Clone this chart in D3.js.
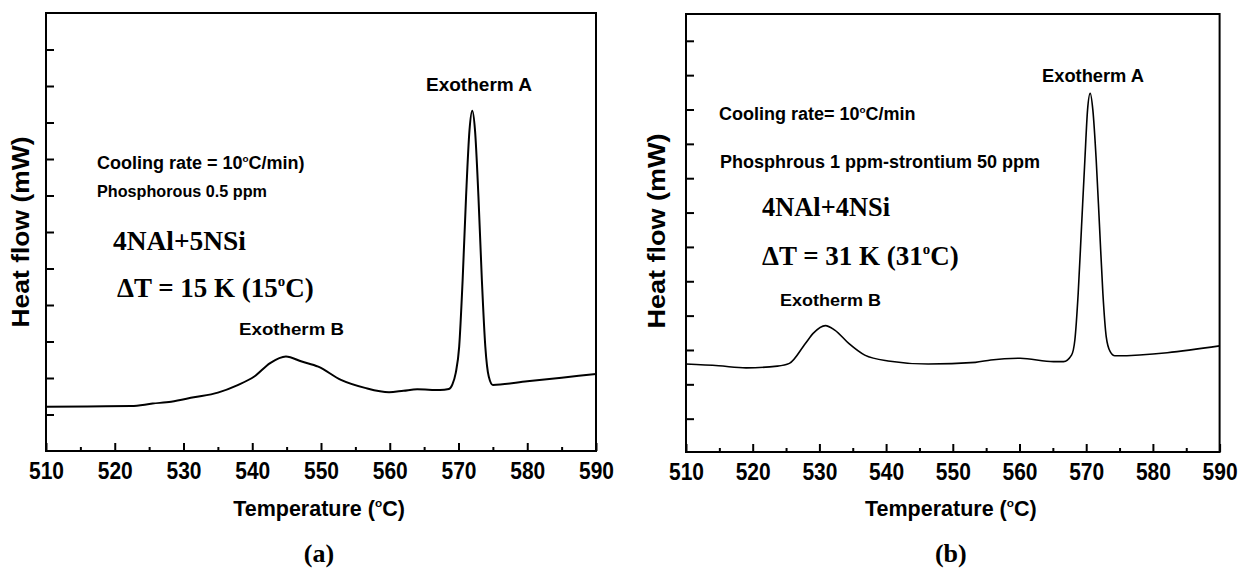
<!DOCTYPE html>
<html>
<head>
<meta charset="utf-8">
<script src="https://cdn.jsdelivr.net/npm/d3@7"></script>
<style>
  body { margin: 0; background: #fff; }
  text { fill: #000; }
</style>
</head>
<body>
<div id="chart"></div>
<script>
// temperatures (°C) and heat flow (arbitrary units, one unit per y tick)
const tempA = [510, 516, 522.4, 525.5, 528.2, 531.5, 535.0, 537.8, 540.3, 542.6, 544.9, 547.2, 549.6, 552.9,
  556.4, 559.9, 562.0, 564.0, 567.3, 568.6, 569.1, 569.6, 570.1, 570.6, 571.1, 571.6, 572.0, 572.4, 572.9,
  573.4, 573.9, 574.4, 575.0, 580, 585, 590];
const heatA = [1.21, 1.22, 1.23, 1.30, 1.35, 1.47, 1.60, 1.80, 2.04, 2.41, 2.59, 2.45, 2.31, 1.95,
  1.73, 1.61, 1.65, 1.69, 1.67, 1.70, 1.82, 2.14, 2.86, 4.68, 6.97, 8.79, 9.32, 8.79, 6.97,
  4.68, 2.86, 2.04, 1.81, 1.91, 2.01, 2.11];

const tempB = [510, 514.9, 519.0, 523.7, 525.5, 527.9, 529.1, 530.9, 532.3, 534.4, 536.8, 540.3, 546.3,
  553.4, 555.7, 560.1, 565.1, 566.6, 567.8, 568.3, 568.8, 569.3, 569.8, 570.2, 570.6, 571.0, 571.5,
  572.0, 572.5, 573.0, 573.6, 574.3, 590];
const heatB = [1.59, 1.54, 1.48, 1.53, 1.61, 2.19, 2.49, 2.71, 2.58, 2.19, 1.85, 1.68, 1.59,
  1.64, 1.71, 1.76, 1.66, 1.66, 1.85, 2.29, 3.65, 5.59, 7.53, 8.98, 9.47, 8.98, 7.53,
  5.59, 3.65, 2.39, 1.95, 1.83, 2.12];

const xMajor = [510, 520, 530, 540, 550, 560, 570, 580, 590];
const xMinor = [515, 525, 535, 545, 555, 565, 575, 585];
const yTicksA = [1, 2, 3, 4, 5, 6, 7, 8, 9, 10, 11];
const yTicksB = [0, 1, 2, 3, 4, 5, 6, 7, 8, 9, 10, 11];

const SANS = "'Liberation Sans', Arial, sans-serif";
const SERIF = "'Liberation Serif', 'Times New Roman', serif";

const svg = d3.select("#chart").append("svg")
  .attr("width", 1239)
  .attr("height", 573)
  .style("display", "block");

// text with an optional superscript "o" (degree) in the middle
function label(g, o) {
  let t = g.append("text")
    .attr("x", o.x).attr("y", o.y)
    .attr("text-anchor", o.anchor || "start")
    .style("font-family", o.font || SANS)
    .style("font-weight", "bold")
    .style("font-size", o.size + "px");
  if (o.len) t.attr("textLength", o.len).attr("lengthAdjust", "spacingAndGlyphs");
  if (o.rotate) t.attr("transform", "rotate(-90," + o.x + "," + o.y + ")");
  if (o.sup) {
    t.append("tspan").text(o.text[0]);
    t.append("tspan").text("o")
      .attr("dy", -o.size * 0.4)
      .style("font-size", (o.size * 0.55) + "px");
    t.append("tspan").text(o.text[1])
      .attr("dy", o.size * 0.4);
  } else {
    t.text(o.text);
  }
  return t;
}

function panel(p) {
  let g = svg.append("g");

  let x = d3.scaleLinear().domain([510, 590]).range(p.xRange);
  let y = d3.scaleLinear().domain(p.yDomain).range(p.yRange);

  let bottom = p.yRange[0];

  // major x ticks + labels
  g.append("g")
    .attr("transform", "translate(0," + bottom + ")")
    .call(d3.axisBottom(x).tickValues(xMajor).tickSizeInner(-8).tickSizeOuter(0)
      .tickPadding(12).tickFormat(d3.format("d")))
    .call(a => a.select(".domain").remove())
    .call(a => a.selectAll("line").attr("stroke-width", 2))
    .call(a => a.selectAll("text")
      .attr("textLength", 35).attr("lengthAdjust", "spacingAndGlyphs")
      .style("font-family", SANS).style("font-weight", "bold").style("font-size", "23px"));

  // minor x ticks
  g.append("g")
    .attr("transform", "translate(0," + bottom + ")")
    .call(d3.axisBottom(x).tickValues(xMinor).tickSizeInner(-4).tickSizeOuter(0).tickFormat(""))
    .call(a => a.select(".domain").remove())
    .call(a => a.selectAll("line").attr("stroke-width", 2));

  // y ticks, no labels
  g.append("g")
    .attr("transform", "translate(" + p.xRange[0] + ",0)")
    .call(d3.axisLeft(y).tickValues(p.yTicks).tickSizeInner(-8).tickSizeOuter(0).tickFormat(""))
    .call(a => a.select(".domain").remove())
    .call(a => a.selectAll("line").attr("stroke-width", 2));

  // frame
  g.append("rect")
    .attr("x", p.xRange[0]).attr("y", p.yRange[1])
    .attr("width", p.xRange[1] - p.xRange[0])
    .attr("height", p.yRange[0] - p.yRange[1])
    .attr("fill", "none")
    .attr("stroke", "#000")
    .attr("stroke-width", 2);

  let line = d3.line()
    .x(d => x(d[0]))
    .y(d => y(d[1]))
    .curve(d3.curveMonotoneX);

  g.append("path")
    .datum(p.temps.map((t, i) => [t, p.heat[i]]))
    .attr("d", line)
    .attr("fill", "none")
    .attr("stroke", "#000")
    .attr("stroke-width", p.lw)
    .attr("stroke-linejoin", "round");

  let cx = (p.xRange[0] + p.xRange[1]) / 2;

  label(g, {text: ["Temperature (", "C)"], sup: true, x: cx - 2, y: 516, size: 21.5, anchor: "middle"});
  label(g, {text: p.tag, x: cx - 2, y: 562, size: 26, anchor: "middle", font: SERIF});
  label(g, {text: "Heat flow (mW)", x: p.titleX, y: p.titleY, size: 23, anchor: "middle",
    rotate: true, len: p.titleLen});

  p.notes.forEach(n => label(g, n));
}

panel({
  xRange: [46, 596], yDomain: [0, 12], yRange: [451, 13], yTicks: yTicksA,
  temps: tempA, heat: heatA, lw: 2, tag: "(a)",
  titleX: 29, titleY: 232, titleLen: 191,
  notes: [
    {text: "Exotherm A", x: 426, y: 91, size: 18, len: 106},
    {text: ["Cooling rate = 10", "C/min)"], sup: true, x: 97, y: 169, size: 18},
    {text: "Phosphorous 0.5 ppm", x: 97, y: 197, size: 17, len: 170},
    {text: "4NAl+5NSi", x: 113, y: 250, size: 27, len: 133, font: SERIF},
    {text: ["\u0394T = 15 K (15", "C)"], sup: true, x: 117, y: 297, size: 27, font: SERIF},
    {text: "Exotherm B", x: 239, y: 335, size: 17, len: 105}
  ]
});

panel({
  xRange: [686, 1219.6], yDomain: [-0.97, 11.78], yRange: [452, 14], yTicks: yTicksB,
  temps: tempB, heat: heatB, lw: 1.6, tag: "(b)",
  titleX: 665, titleY: 231, titleLen: 195,
  notes: [
    {text: "Exotherm A", x: 1042, y: 82, size: 18, len: 102},
    {text: ["Cooling rate= 10", "C/min"], sup: true, x: 719, y: 120, size: 18},
    {text: "Phosphrous 1 ppm-strontium 50 ppm", x: 720, y: 168, size: 18},
    {text: "4NAl+4NSi", x: 762, y: 216, size: 27, len: 128, font: SERIF},
    {text: ["\u0394T = 31 K (31", "C)"], sup: true, x: 762, y: 265, size: 27, font: SERIF},
    {text: "Exotherm B", x: 780, y: 306, size: 17, len: 101}
  ]
});
</script>
</body>
</html>
